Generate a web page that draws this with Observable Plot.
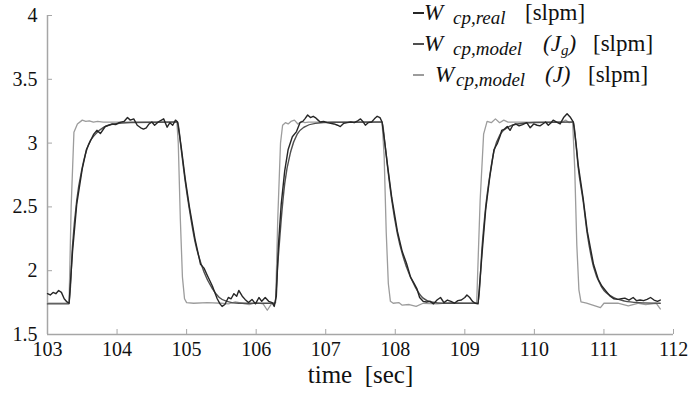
<!DOCTYPE html>
<html>
<head>
<meta charset="utf-8">
<script src="https://cdn.jsdelivr.net/npm/d3@7"></script>
<script src="https://cdn.jsdelivr.net/npm/@observablehq/plot@0.6"></script>
<style>
  html, body { margin: 0; padding: 0; background: #fff; }
  #wrap { position: relative; width: 691px; height: 394px; font-family: "Liberation Serif", LiberationSerif, Tinos, "Times New Roman", Times, "DejaVu Serif", "Noto Serif", serif; color: #111; }
  #wrap svg { position: absolute; left: 0; top: 0; }
  .lg { position: absolute; white-space: nowrap; line-height: 1; }
  .dash { position: absolute; height: 2px; width: 11px; }
  .it { font-style: italic; }
</style>
</head>
<body>
<div id="wrap"></div>
<script>
// ---- axis ticks ----
const xTicks = [103, 104, 105, 106, 107, 108, 109, 110, 111, 112];
const yTicks = [1.5, 2, 2.5, 3, 3.5, 4];
const xLabel = "time  [sec]";

// ---- W_cp,real (measured) ----
const realT = [103.00,103.04,103.08,103.12,103.16,103.20,103.24,103.28,103.31,103.36,103.42,103.50,103.56,103.62,103.665,103.71,103.76,103.83,103.88,103.93,103.98,104.03,104.10,104.15,104.19,104.24,104.29,104.34,104.38,104.42,104.46,104.50,104.54,104.58,104.62,104.67,104.72,104.76,104.80,104.84,104.87,
  104.92,104.98,105.04,105.12,105.20,105.25,105.30,105.37,105.44,105.48,105.51,105.55,105.60,105.64,105.68,105.72,105.75,105.80,105.84,105.89,105.94,105.99,106.04,106.08,106.13,106.18,106.23,106.26,
  106.29,106.32,106.36,106.41,106.46,106.52,106.58,106.63,106.67,106.70,106.74,106.78,106.82,106.85,106.89,106.92,106.97,107.02,107.07,107.12,107.17,107.21,107.26,107.31,107.36,107.41,107.46,107.50,107.54,107.57,107.61,107.66,107.70,107.74,107.78,107.81,
  107.85,107.89,107.95,108.03,108.10,108.16,108.22,108.27,108.31,108.35,108.40,108.45,108.50,108.55,108.60,108.65,108.70,108.75,108.80,108.85,108.90,108.95,109.00,109.03,109.07,109.11,109.15,109.19,
  109.25,109.30,109.36,109.42,109.47,109.51,109.53,109.57,109.61,109.65,109.69,109.73,109.78,109.83,109.89,109.94,109.99,110.04,110.08,110.12,110.16,110.20,110.24,110.27,110.32,110.37,110.42,110.47,110.52,110.56,
  110.60,110.63,110.70,110.76,110.85,110.92,110.97,111.03,111.09,111.14,111.20,111.25,111.30,111.36,111.42,111.47,111.52,111.57,111.62,111.67,111.72,111.77,111.81];
const realV = [1.82,1.81,1.83,1.82,1.845,1.83,1.78,1.755,1.745,2.15,2.52,2.80,2.95,3.02,3.07,3.10,3.075,3.13,3.14,3.15,3.145,3.16,3.17,3.20,3.18,3.19,3.14,3.12,3.11,3.12,3.15,3.165,3.14,3.16,3.175,3.19,3.125,3.16,3.14,3.18,3.165,
  2.98,2.72,2.50,2.25,2.05,2.02,1.96,1.88,1.78,1.74,1.72,1.735,1.79,1.78,1.82,1.80,1.845,1.80,1.775,1.75,1.775,1.74,1.79,1.76,1.79,1.76,1.75,1.72,
  1.80,2.20,2.52,2.78,2.95,3.05,3.09,3.16,3.17,3.19,3.22,3.20,3.21,3.20,3.18,3.165,3.17,3.16,3.155,3.15,3.14,3.13,3.155,3.16,3.165,3.16,3.175,3.19,3.165,3.14,3.16,3.165,3.19,3.21,3.20,3.165,
  3.00,2.82,2.57,2.31,2.15,2.06,1.95,1.90,1.86,1.79,1.76,1.755,1.76,1.74,1.77,1.79,1.75,1.77,1.76,1.745,1.765,1.77,1.79,1.81,1.79,1.76,1.745,1.74,
  2.15,2.48,2.74,2.95,3.00,3.06,3.10,3.11,3.13,3.10,3.14,3.15,3.135,3.145,3.16,3.12,3.15,3.14,3.135,3.15,3.165,3.14,3.16,3.18,3.165,3.15,3.20,3.23,3.20,3.165,
  2.99,2.83,2.57,2.31,2.05,1.93,1.88,1.84,1.80,1.78,1.775,1.78,1.785,1.77,1.79,1.765,1.77,1.765,1.775,1.79,1.77,1.76,1.77];

// ---- W_cp,model (Jg) ----
const jgT = [103.00,103.31,103.36,103.42,103.50,103.59,103.69,103.81,103.95,104.20,104.87,
  104.92,104.98,105.04,105.12,105.25,105.37,105.47,105.58,105.75,106.27,
  106.31,106.36,106.41,106.50,106.59,106.69,106.85,107.10,107.81,
  107.85,107.89,107.95,108.03,108.16,108.29,108.40,108.52,108.70,109.19,
  109.25,109.30,109.36,109.42,109.51,109.62,109.75,110.00,110.56,
  110.60,110.63,110.70,110.76,110.85,110.97,111.14,111.30,111.50,111.81];
const jgV = [1.74,1.74,2.20,2.55,2.81,2.99,3.07,3.125,3.15,3.162,3.165,
  2.96,2.70,2.48,2.23,1.99,1.86,1.79,1.76,1.745,1.745,
  2.05,2.40,2.68,2.94,3.07,3.125,3.155,3.163,3.165,
  3.00,2.81,2.55,2.29,2.03,1.87,1.785,1.755,1.745,1.745,
  2.20,2.50,2.75,2.94,3.07,3.125,3.15,3.162,3.165,
  2.98,2.81,2.55,2.29,2.03,1.87,1.79,1.762,1.75,1.745];

// ---- W_cp,model (J) ----
const jT = [103.00,103.31,103.34,103.38,103.43,103.50,103.55,103.60,103.66,103.72,103.80,104.86,
  104.88,104.91,104.94,104.97,105.00,105.10,105.30,105.50,105.60,105.70,105.80,105.90,106.00,106.10,106.16,106.22,106.28,
  106.31,106.35,106.38,106.42,106.46,106.50,106.55,106.60,106.65,106.70,106.75,107.81,
  107.84,107.87,107.90,107.93,107.97,108.05,108.10,108.20,108.30,108.40,108.60,108.80,109.00,109.17,
  109.22,109.27,109.32,109.38,109.44,109.50,109.56,109.62,110.40,110.45,110.50,110.55,
  110.58,110.61,110.64,110.67,110.75,110.95,111.00,111.20,111.35,111.50,111.60,111.75,111.81];
const jV = [1.745,1.745,2.50,3.085,3.15,3.18,3.17,3.175,3.165,3.17,3.165,3.165,
  3.00,2.40,1.95,1.78,1.75,1.745,1.75,1.745,1.74,1.755,1.745,1.735,1.75,1.74,1.69,1.74,1.75,
  2.40,3.00,3.14,3.16,3.15,3.17,3.18,3.15,3.17,3.16,3.165,3.165,
  2.90,2.30,1.90,1.76,1.745,1.75,1.73,1.735,1.72,1.745,1.74,1.75,1.745,1.745,
  2.55,3.07,3.17,3.16,3.19,3.16,3.18,3.165,3.165,3.18,3.16,3.165,
  2.80,2.20,1.85,1.755,1.745,1.71,1.745,1.745,1.725,1.745,1.735,1.745,1.70];

const rows = (T, V) => T.map((t, i) => ({t, v: V[i]}));
const axisGray = "#a6a6a6";
const serif = "\"Liberation Serif\", LiberationSerif, Tinos, \"Times New Roman\", Times, \"DejaVu Serif\", \"Noto Serif\", serif";

const chart = Plot.plot({
  width: 691,
  height: 394,
  marginLeft: 47,
  marginRight: 18,
  marginTop: 15,
  marginBottom: 60,
  style: {fontFamily: serif, fontSize: "20px", color: "#111", background: "transparent"},
  x: {domain: [xTicks[0], xTicks[xTicks.length - 1]]},
  y: {domain: [yTicks[0], yTicks[yTicks.length - 1]]},
  marks: [
    Plot.ruleX([xTicks[0]], {stroke: axisGray, strokeWidth: 1.5}),
    Plot.ruleY([yTicks[0]], {stroke: axisGray, strokeWidth: 1.5}),
    Plot.axisX({ticks: xTicks, tickSize: -5, tickPadding: 12, stroke: axisGray, label: null, tickFormat: d => String(d)}),
    Plot.axisY({ticks: yTicks, tickSize: -5, tickPadding: 15, stroke: axisGray, label: null, tickFormat: d => String(d)}),
    Plot.line(rows(jT, jV), {x: "t", y: "v", stroke: "#9c9c9c", strokeWidth: 1.3}),
    Plot.line(rows(jgT, jgV), {x: "t", y: "v", stroke: "#4f4f4f", strokeWidth: 1.4, curve: "monotone-x"}),
    Plot.line(rows(realT, realV), {x: "t", y: "v", stroke: "#262626", strokeWidth: 1.4}),
    Plot.text([xLabel], {frameAnchor: "bottom", dy: 48, fontSize: 25, fill: "#111"})
  ]
});

const wrap = document.getElementById("wrap");
wrap.appendChild(chart);

// ---- legend (HTML overlay) ----
const legendEntries = [
  {color: "#262626", base: 20, wx: 424, sub: "cp,real", subx: 453, par: null, parx: 0, ux: 525},
  {color: "#4f4f4f", base: 51, wx: 424, sub: "cp,model", subx: 453, par: "Jg", parx: 543, ux: 593},
  {color: "#9c9c9c", base: 82, wx: 435, sub: "cp,model", subx: 456, par: "J", parx: 545, ux: 588}
];
function place(html, x, base, fs, cls) {
  const s = document.createElement("span");
  s.className = "lg " + (cls || "");
  s.style.left = x + "px";
  s.style.top = (base - 0.8375 * fs) + "px";
  s.style.fontSize = fs + "px";
  s.innerHTML = html;
  wrap.appendChild(s);
}
for (const e of legendEntries) {
  const d = document.createElement("span");
  d.className = "dash";
  d.style.left = "413px";
  d.style.top = (e.base - 8) + "px";
  d.style.background = e.color;
  wrap.appendChild(d);
  place("W", e.wx, e.base, 23, "it");
  place(e.sub, e.subx, e.base + 4, 19, "it");
  if (e.par) {
    const inner = e.par === "Jg" ? "(J<span style=\"font-size:15px;position:relative;top:4px\">g</span>)" : "(J)";
    place(inner, e.parx, e.base, 23, "it");
  }
  place("[slpm]", e.ux, e.base, 23, "");
}
</script>
</body>
</html>
